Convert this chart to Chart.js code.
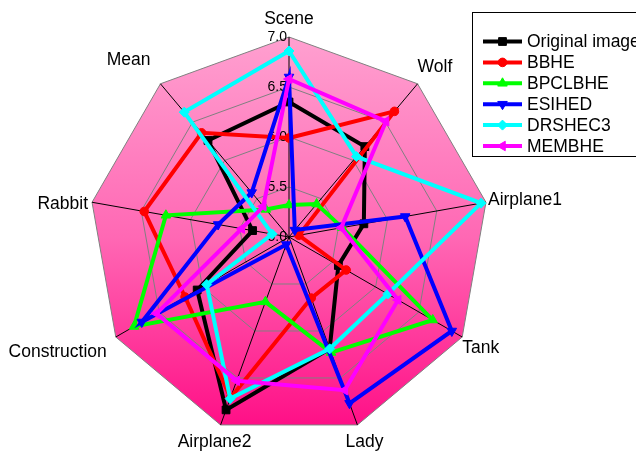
<!DOCTYPE html>
<html>
<head>
<meta charset="utf-8">
<title>Radar comparison</title>
<style>
  html, body { margin: 0; padding: 0; background: #ffffff; }
  #wrap { width: 636px; height: 452px; }
</style>
<script src="https://cdn.jsdelivr.net/npm/chart.js"></script>
</head>
<body>
<div id="wrap"><canvas id="radar" width="636" height="452"></canvas></div>
<script>
// Axis names, clockwise from the top
const axes = ['Scene', 'Wolf', 'Airplane1', 'Tank', 'Lady', 'Airplane2', 'Construction', 'Rabbit', 'Mean'];

// Scores per method
const originalImage = [6.35, 6.18, 5.76, 5.57, 6.19, 6.84, 6.06, 5.37, 6.26];
const bbhe          = [5.99, 6.64, 5.10, 5.66, 5.65, 6.71, 6.20, 6.47, 6.36];
const bpclbhe       = [5.32, 5.43, 5.54, 6.66, 6.23, 5.69, 6.79, 6.25, 5.36];
const esihed        = [6.60, 5.09, 6.18, 6.88, 6.77, 5.08, 6.70, 5.72, 5.58];
const drshec3       = [6.86, 6.05, 6.95, 6.14, 6.19, 6.72, 5.95, 5.17, 6.63];
const membhe        = [6.58, 6.51, 5.53, 6.26, 6.63, 6.53, 6.53, 5.48, 5.40];

// Radial axis range and tick step
const axisMin = 5.0;
const axisMax = 7.0;
const axisStep = 0.5;

const FONT = '"Liberation Sans", Arial, Helvetica, sans-serif';
const CENTER_X = 289, CENTER_Y = 237, RADIUS = 200;

const canvas = document.getElementById('radar');
const g = canvas.getContext('2d');
const plotFill = g.createLinearGradient(0, CENTER_Y - RADIUS, 0, CENTER_Y + RADIUS);
plotFill.addColorStop(0, '#ffa0d0');
plotFill.addColorStop(0.5, '#ff68b4');
plotFill.addColorStop(1, '#ff0a84');

function series(label, data, color, pointStyle, rotation, radius, order) {
  return {
    label, data, order,
    borderColor: color,
    backgroundColor: color,
    borderWidth: 4,
    fill: false,
    pointStyle,
    pointRotation: rotation,
    pointRadius: radius,
    pointHoverRadius: radius,
    pointBackgroundColor: color,
    pointBorderColor: color,
    pointBorderWidth: 1
  };
}

// Placement of each axis name relative to the outer vertex
const labelPlacement = [
  { align: 'center', dx: 0,   dy: -18 },
  { align: 'left',   dx: 0,   dy: -17 },
  { align: 'left',   dx: 2,   dy: -2 },
  { align: 'left',   dx: 0,   dy: 11 },
  { align: 'center', dx: 7,   dy: 17 },
  { align: 'center', dx: -6,  dy: 17 },
  { align: 'right',  dx: -9,  dy: 15 },
  { align: 'right',  dx: -4,  dy: 2 },
  { align: 'right',  dx: -10, dy: -24 }
];

function marker(ctx, ds, x, y) {
  const opts = { pointStyle: ds.pointStyle, rotation: ds.pointRotation, radius: ds.pointRadius, borderWidth: 1 };
  ctx.fillStyle = ds.pointBackgroundColor;
  ctx.strokeStyle = ds.pointBorderColor;
  ctx.lineWidth = 1;
  if (Chart.helpers && Chart.helpers.drawPoint) {
    Chart.helpers.drawPoint(ctx, opts, x, y);
  } else {
    ctx.beginPath();
    ctx.arc(x, y, ds.pointRadius, 0, Math.PI * 2);
    ctx.fill();
  }
}

const radarDecor = {
  id: 'radarDecor',
  beforeDatasetsDraw(chart) {
    const s = chart.scales.r;
    const ctx = chart.ctx;
    ctx.save();
    ctx.font = '14px ' + FONT;
    ctx.fillStyle = '#000000';
    ctx.textAlign = 'right';
    ctx.textBaseline = 'middle';
    s.ticks.forEach(t => {
      const p = s.getPointPositionForValue(0, t.value);
      ctx.fillText(t.value.toFixed(1), p.x - 2, p.y);
    });
    ctx.restore();
  },
  afterDraw(chart) {
    const s = chart.scales.r;
    const ctx = chart.ctx;
    ctx.save();
    // axis names
    ctx.font = '17.5px ' + FONT;
    ctx.fillStyle = '#000000';
    ctx.textBaseline = 'middle';
    chart.data.labels.forEach((name, i) => {
      const p = s.getPointPosition(i, s.drawingArea);
      const lp = labelPlacement[i];
      ctx.textAlign = lp.align;
      ctx.fillText(name, p.x + lp.dx, p.y + lp.dy);
    });
    // legend box
    const box = { x: 472.5, y: 12.5, w: 180, h: 144 };
    ctx.fillStyle = '#ffffff';
    ctx.fillRect(box.x, box.y, box.w, box.h);
    ctx.strokeStyle = '#000000';
    ctx.lineWidth = 1;
    ctx.strokeRect(box.x, box.y, box.w, box.h);
    const rowY = 41.5, rowH = 20.9, x0 = 483, x1 = 522, tx = 527;
    chart.data.datasets.forEach((ds, i) => {
      const y = rowY + i * rowH;
      ctx.strokeStyle = ds.borderColor;
      ctx.lineWidth = 4;
      ctx.beginPath();
      ctx.moveTo(x0, y);
      ctx.lineTo(x1, y);
      ctx.stroke();
      marker(ctx, ds, (x0 + x1) / 2, y);
      ctx.fillStyle = '#000000';
      ctx.font = '17.5px ' + FONT;
      ctx.textAlign = 'left';
      ctx.textBaseline = 'middle';
      ctx.fillText(ds.label, tx, y + 1);
    });
    ctx.restore();
  }
};

new Chart(canvas, {
  type: 'radar',
  data: {
    labels: axes,
    datasets: [
      series('Original image', originalImage, '#000000', 'rect',     0,   5.5, 6),
      series('BBHE',           bbhe,          '#ff0000', 'circle',   0,   4.3, 5),
      series('BPCLBHE',        bpclbhe,       '#00ff00', 'triangle', 0,   5.5, 4),
      series('ESIHED',         esihed,        '#0000ff', 'triangle', 180, 5.5, 3),
      series('DRSHEC3',        drshec3,       '#00ffff', 'rectRot',  0,   5,   2),
      series('MEMBHE',         membhe,        '#ff00ff', 'triangle', -90, 5.5, 1)
    ]
  },
  options: {
    responsive: false,
    animation: false,
    devicePixelRatio: 1,
    events: [],
    plugins: {
      legend: { display: false },
      tooltip: { enabled: false }
    },
    elements: { line: { tension: 0 } },
    scales: {
      r: {
        min: axisMin,
        max: axisMax,
        beginAtZero: false,
        startAngle: 0,
        backgroundColor: plotFill,
        ticks: { stepSize: axisStep, display: false },
        pointLabels: { display: false },
        grid: { circular: false, color: '#808080', lineWidth: 1 },
        angleLines: { display: true, color: '#000000', lineWidth: 1 },
        afterFit(scale) {
          scale.xCenter = CENTER_X;
          scale.yCenter = CENTER_Y;
          scale.drawingArea = RADIUS;
        }
      }
    }
  },
  plugins: [radarDecor]
});
</script>
</body>
</html>
